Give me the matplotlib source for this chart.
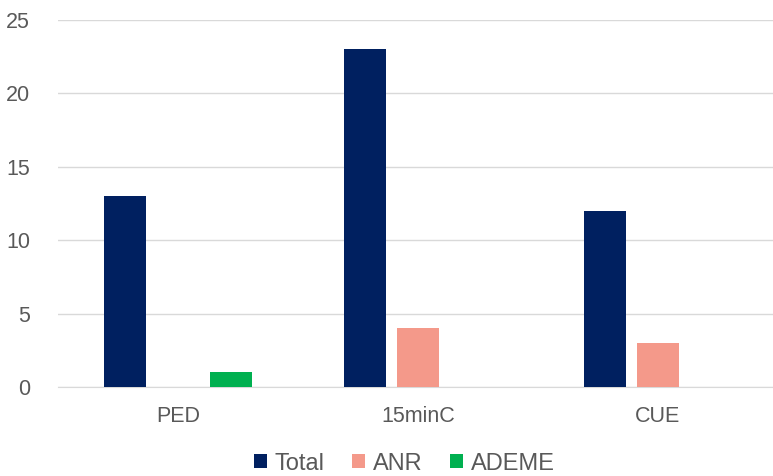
import matplotlib
matplotlib.use("Agg")
import matplotlib.pyplot as plt
import numpy as np

categories = ["PED", "15minC", "CUE"]
series_names = ["Total", "ANR", "ADEME"]
total = [13, 23, 12]
anr = [0, 4, 3]
ademe = [1, 0, 0]
colors = ["#002060", "#F4998A", "#00B050"]
yticks = [0, 5, 10, 15, 20, 25]

plt.rcParams['font.family'] = ['Liberation Sans', 'DejaVu Sans']
fig = plt.figure(figsize=(7.73, 4.76), dpi=100)
ax = fig.add_axes([0.075, 0.187, 0.931, 0.771])

x = np.arange(len(categories))
w = 0.175
off = 0.221
for i, (vals, name, c) in enumerate(zip([total, anr, ademe], series_names, colors)):
    ax.bar(x + (i - 1) * off, vals, width=w, color=c, label=name, zorder=3)

ax.set_xlim(-0.5, 2.5)
ax.set_ylim(0, 25)
ax.set_yticks(yticks)
ax.set_xticks(x)
ax.set_xticklabels(categories)
ax.grid(axis='y', color='#D9D9D9', linewidth=1, zorder=0)
for s in ['top', 'right', 'left']:
    ax.spines[s].set_visible(False)
ax.spines['bottom'].set_color('#D9D9D9')
ax.tick_params(axis='both', length=0, labelsize=15.5, colors='#595959')
ax.tick_params(axis='x', pad=14)
ax.tick_params(axis='y', pad=20)

leg = fig.legend(loc='center', bbox_to_anchor=(0.523, 0.026), ncol=3, frameon=False,
                 fontsize=17, handlelength=0.55, handleheight=0.55, handletextpad=0.3,
                 columnspacing=1.2, borderpad=0.1)
for t in leg.get_texts():
    t.set_color('#595959')

fig.savefig("out.png", dpi=100)
